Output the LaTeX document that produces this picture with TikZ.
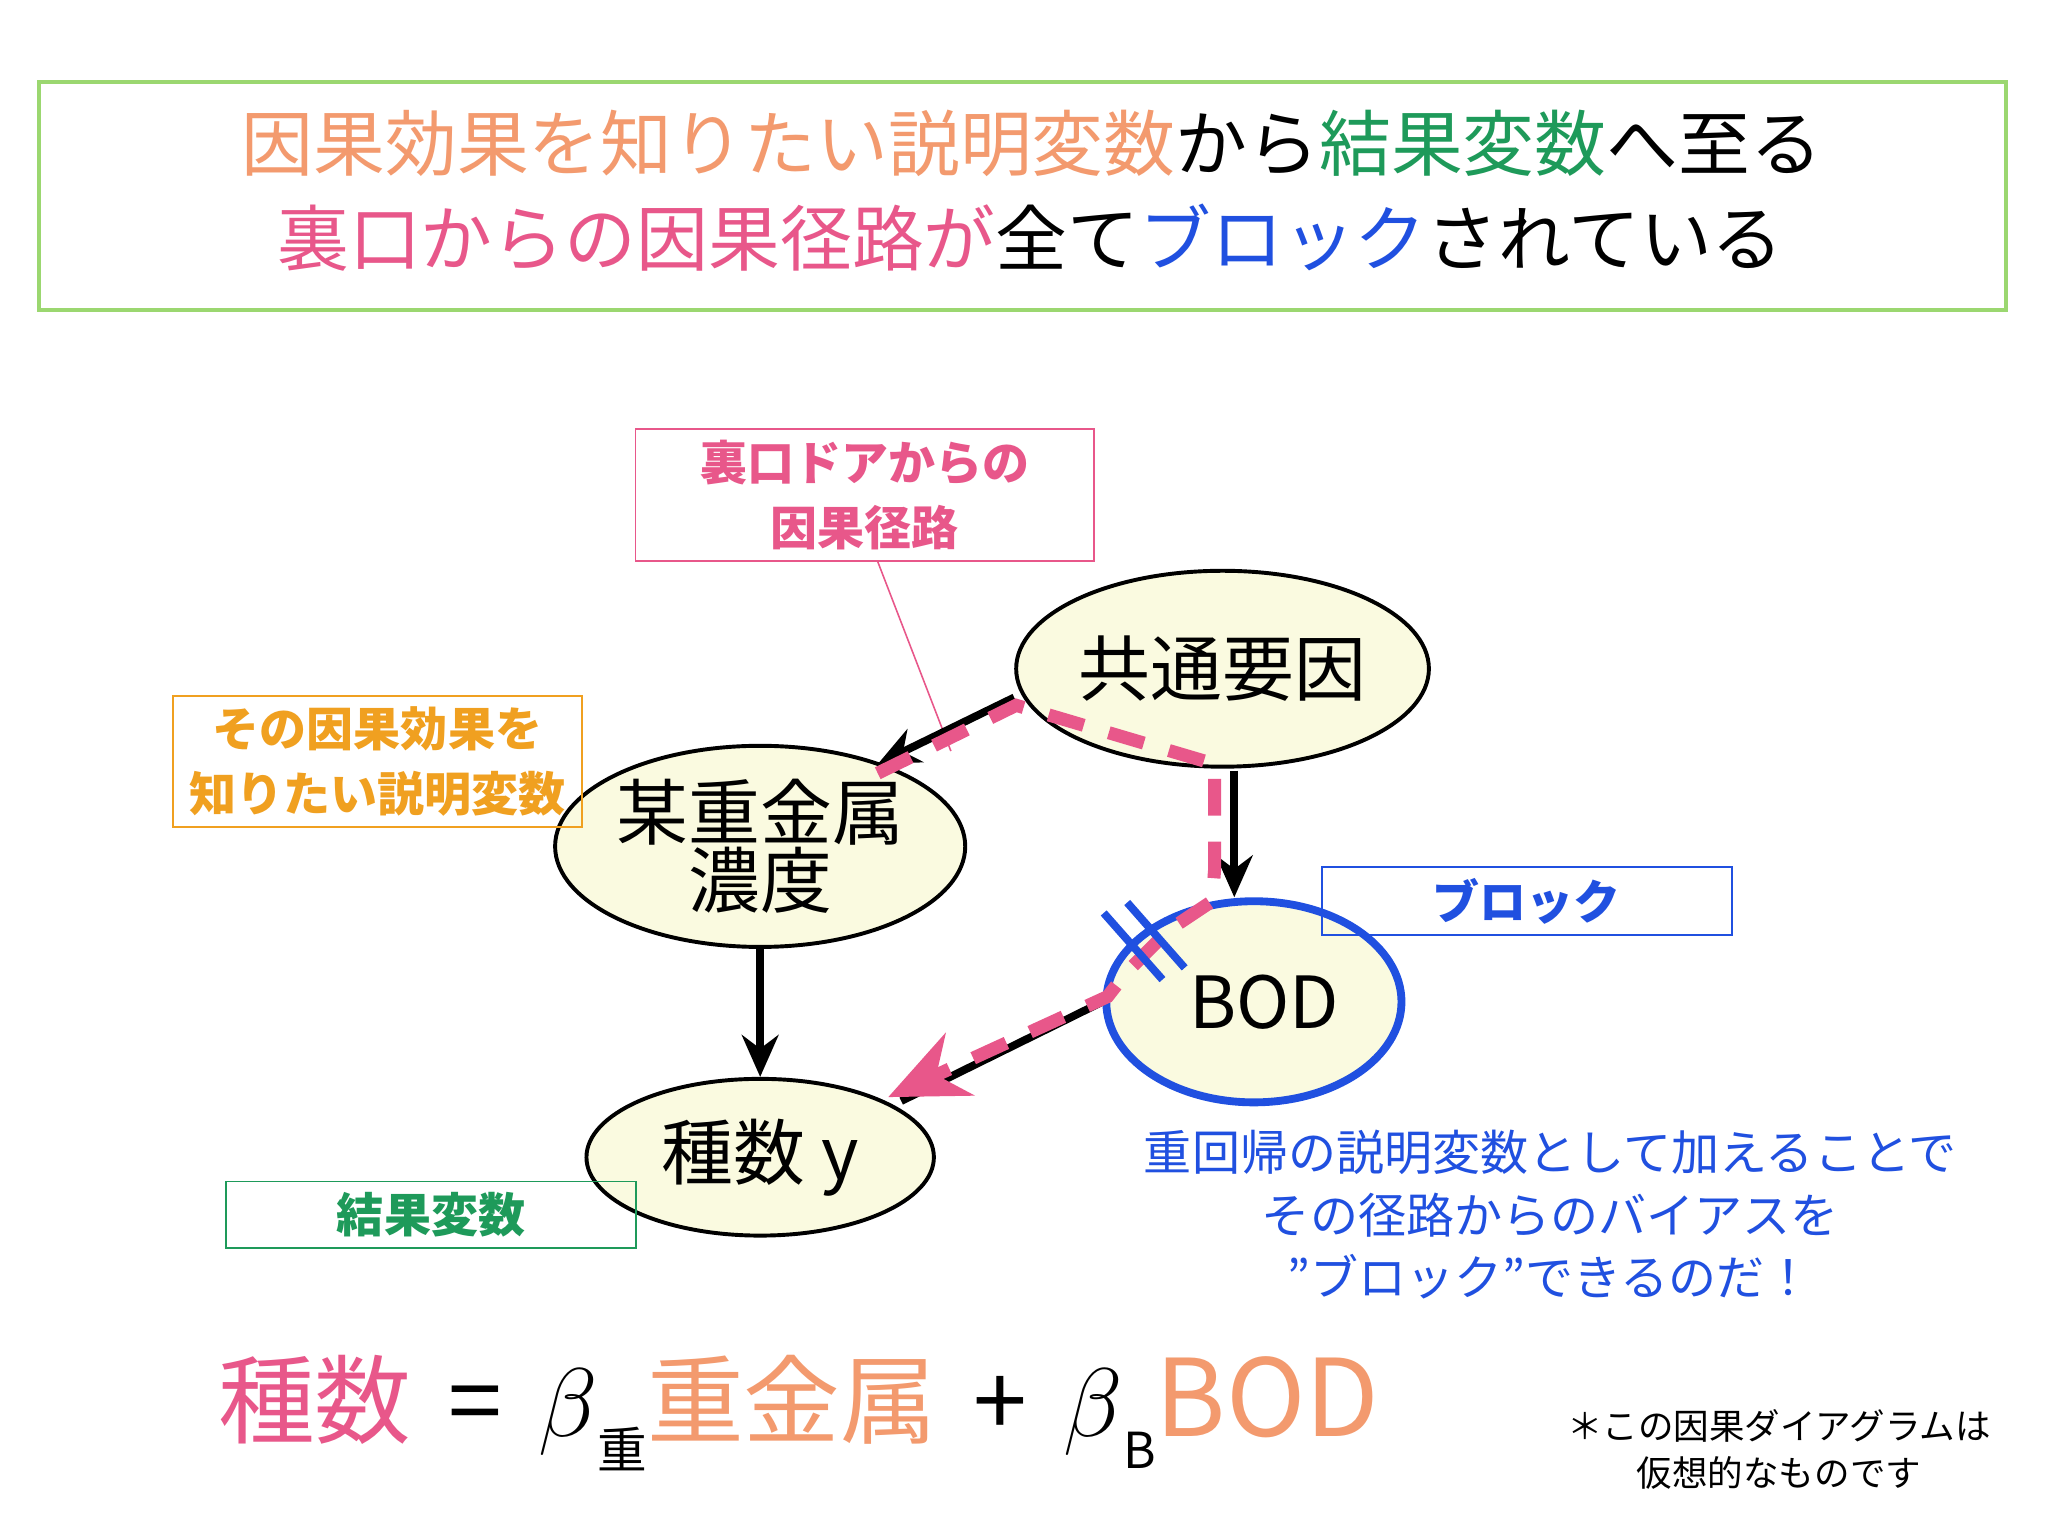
\documentclass[tikz,border=0pt]{standalone}
\usepackage{fontspec}
\setmainfont{Noto Sans CJK JP}
\usetikzlibrary{arrows.meta,shapes.geometric}
\definecolor{tgreen}{HTML}{9BD770}
\definecolor{salmon}{HTML}{F39A6E}
\definecolor{dgreen}{HTML}{1E9A5A}
\definecolor{pinkc}{HTML}{E8578A}
\definecolor{bluec}{HTML}{2050E0}
\definecolor{orangec}{HTML}{F0A020}
\definecolor{ell}{HTML}{FAFAE0}
\tikzset{
 ov/.style={ellipse,draw=black,line width=1.5pt,fill=ell,inner sep=0pt,font=\fontsize{27.5}{29}\selectfont,align=center},
 lab/.style={draw,line width=0.6pt,inner sep=0pt,align=center,font=\bfseries\fontsize{18}{25}\selectfont},
 blk/.style={line width=3pt,-{Stealth[length=16pt,width=14pt]}},
 pd/.style={pinkc,line width=5pt,dash pattern=on 14pt off 10pt}
}
\begin{document}
\begin{tikzpicture}[x=0.5pt,y=-0.5pt]
\useasboundingbox (0,0) rectangle (1568,1176);
\fill[white] (0,0) rectangle (1568,1176);
\node[draw=tgreen,line width=1.5pt,minimum width=753pt,minimum height=87.5pt] (tb) at (783,150) {};
\node[font=\fontsize{27.5}{30}\selectfont] (t1) at (790,110) {\color{salmon}因果効果を知りたい説明変数\color{black}から\color{dgreen}結果変数\color{black}へ至る};
\node[font=\fontsize{27.5}{30}\selectfont] (t2) at (789,182) {\color{pinkc}裏口からの因果径路が\color{black}全て\color{bluec}ブロック\color{black}されている};

\node[ov,minimum width=158pt,minimum height=75pt] (c) at (936,512) {共通要因};
\node[ov,minimum width=157pt,minimum height=77pt] (m) at (582,648) {某重金属\\[-3pt]濃度};
\node[ov,draw=bluec,line width=3pt,minimum width=113pt,minimum height=77pt] (b) at (960,767) {\hspace*{8pt}BOD};
\node[ov,minimum width=133pt,minimum height=60pt] (s) at (582,886) {種数 y};

\node[lab,draw=pinkc,text=pinkc,minimum width=175.5pt,minimum height=50.5pt] (l1) at (662,379) {裏口ドアからの\\因果径路};
\coordinate (l1e) at (728,575);
\draw[pinkc,line width=0.6pt] (672,430) -- (l1e);
\node[lab,draw=orangec,text=orangec,minimum width=156.5pt,minimum height=50pt] (l2) at (289,583) {その因果効果を\\知りたい説明変数};
\node[lab,draw=bluec,text=bluec,minimum width=157pt,minimum height=26pt] (l3) at (1169,690) {ブロック};
\node[lab,draw=dgreen,text=dgreen,minimum width=157pt,minimum height=25.5pt] (l4) at (330,930) {結果変数};

\draw[blk] (c.west) ++(0,22) -- (672,585);
\draw[blk] (945,590) -- (b.north -| 945,0);
\draw[blk] (m.south) -- (s.north);
\draw[black,line width=3pt] (b.west) -- (690,843);
% pink back-door path
\draw[pd,-{Stealth[length=30pt,width=26pt]}] (672,592) -- (778,540) -- (930,585) -- (930,665) -- (928,690) -- (895,712) -- (862,745) -- (848,763) -- (680,840);
\draw[bluec,line width=3pt] (845,699) -- (890,750);
\draw[bluec,line width=3pt] (863,691) -- (907,741);

\node[text=bluec,font=\fontsize{18.4}{24}\selectfont,align=center] (bt) at (1187,930) {重回帰の説明変数として加えることで\\その径路からのバイアスを\\”ブロック”できるのだ！};

\node[anchor=base west,font=\fontsize{37}{40}\selectfont] (f) at (160,1100) {\color{pinkc}種数\color{black}\hspace{14pt}=\hspace{14pt}\scalebox{1.5}{$\beta$}\raisebox{-12pt}{\fontsize{19}{20}\selectfont 重}\color{salmon}重金属\color{black}\hspace{14pt}+\hspace{14pt}\scalebox{1.5}{$\beta$}\raisebox{-12pt}{\fontsize{19}{20}\selectfont B}\color{salmon}\fontsize{41}{44}\selectfont BOD};
\node[font=\fontsize{13.6}{18}\selectfont,align=center] (fn) at (1362,1110) {＊この因果ダイアグラムは\\仮想的なものです};
\end{tikzpicture}
\end{document}
